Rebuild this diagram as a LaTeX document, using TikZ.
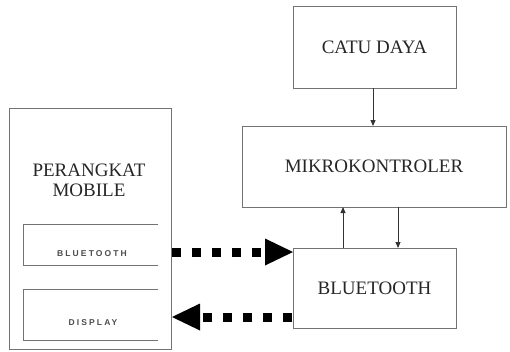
\documentclass[tikz,border=0pt]{standalone}
\usepackage{fontspec}
\setmainfont{Liberation Serif}
\newfontfamily\smallsans[LetterSpace=25]{Liberation Sans Bold}
\usetikzlibrary{arrows.meta}
\begin{document}
\begin{tikzpicture}[x=1pt,y=-1pt,
  box/.style={draw=black!55,line width=0.9pt},
  lbl/.style={font=\fontsize{19}{21}\selectfont,text=black!85},
  slbl/.style={font=\smallsans\fontsize{8.5}{9}\selectfont,text=black!70},
  solidarr/.style={draw=black!80,line width=0.9pt,-{Triangle[length=6pt,width=5pt]}},
  dotarr/.style={line width=9pt,dash pattern=on 9pt off 11pt,-{Triangle[length=28pt,width=27pt,line width=0pt]},shorten >=0pt}
]
\useasboundingbox (0,0) rectangle (510,351);
% boxes
\draw[box] (293,6) rectangle (456,88);
\node[lbl] (catu) at (374.5,47) {CATU DAYA};
\draw[box] (242,126) rectangle (506,207);
\node[lbl] (mikro) at (374,166) {MIKROKONTROLER};
\draw[box] (293,248) rectangle (456,328);
\node[lbl] (bt) at (374.5,288) {BLUETOOTH};
\draw[box] (9,108) rectangle (171,349);
\node[lbl,align=center] (mob) at (89,180) {PERANGKAT\\[-1pt]MOBILE};
% inner open boxes
\draw[box] (158,224) -- (23,224) -- (23,265) -- (158,265);
\node[slbl] (ibt) at (92,254) {BLUETOOTH};
\draw[box] (158,289) -- (23,289) -- (23,340) -- (158,340);
\node[slbl] (idisp) at (93,323) {DISPLAY};
% solid arrows
\coordinate (c1) at (373,88);
\coordinate (c2) at (373,126);
\draw[solidarr] (c1) -- (c2);
\coordinate (u1) at (343,248);
\coordinate (u2) at (343,207);
\draw[solidarr] (u1) -- (u2);
\coordinate (d1) at (398,207);
\coordinate (d2) at (398,248);
\draw[solidarr] (d1) -- (d2);
% dotted arrows
\coordinate (a1) at (172,252);
\coordinate (a2) at (293,252);
\draw[dotarr] (a1) -- (a2);
\coordinate (b1) at (292,317);
\coordinate (b2) at (172,317);
\draw[dotarr] (b1) -- (b2);
\end{tikzpicture}
\end{document}
